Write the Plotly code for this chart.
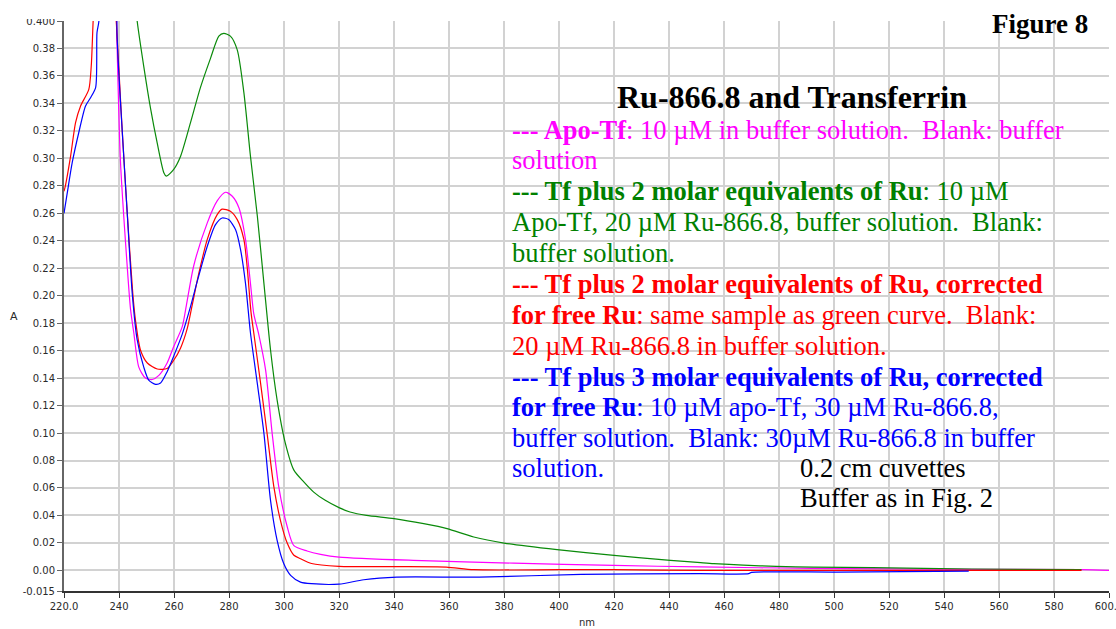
import plotly.graph_objects as go

# ---- spectra: wavelength (nm) and absorbance (A) ----
apo_nm = [236, 238.5, 239.3, 240.5, 243, 244.2, 245.4, 247.2, 249.6, 252.1, 254.5,
          257.5, 259.9, 263, 264.5, 267.2, 272.1, 275.7, 278.7, 281.2, 283.6, 286,
          287.8, 289, 290.8, 293.3, 295.7, 298.1, 301.2, 303.6, 308.4, 313.3, 320,
          347, 383.5, 420, 451.5, 492, 550, 590, 600]
apo_a = [0.6, 0.45, 0.382, 0.299, 0.221, 0.19, 0.1727, 0.148, 0.140, 0.139, 0.142,
         0.151, 0.163, 0.1775, 0.193, 0.222, 0.253, 0.269, 0.2753, 0.2724, 0.264, 0.241,
         0.209, 0.187, 0.172, 0.146, 0.0998, 0.0608, 0.0316, 0.018, 0.0141, 0.0117, 0.0097,
         0.0073, 0.0053, 0.0036, 0.0025, 0.0015, 0.0008, 0.0005, 0.0]

tf2_nm = [240, 244, 246.6, 249, 251.5, 253.9, 256.3, 257.2, 259.9, 262.4, 266, 269.6,
          273.3, 276.3, 278.1, 280.5, 283, 285.4, 287.8, 290.3, 292.7, 295.1, 297.5,
          300.5, 303.6, 307.2, 310.8, 315, 320, 324, 330, 340, 350.8, 359.3, 369, 380,
          399.3, 420, 440.5, 451.5, 456.3, 467, 479, 492.6, 514, 550, 590]
tf2_a = [0.6, 0.45, 0.40, 0.367, 0.336, 0.311, 0.2895, 0.287, 0.292, 0.3016, 0.326, 0.3515,
         0.373, 0.389, 0.391, 0.389, 0.379, 0.348, 0.3016, 0.258, 0.209, 0.1605, 0.124,
         0.0925, 0.073, 0.0644, 0.057, 0.051, 0.0457, 0.0425, 0.040, 0.0377, 0.034, 0.0304,
         0.0243, 0.0199, 0.0151, 0.0109, 0.0073, 0.0056, 0.0049, 0.0039, 0.0029, 0.0024,
         0.002, 0.001, 0.0005]

tf2c_nm = [220, 220.5, 222.4, 224.2, 226, 229, 229.9, 230.6, 233, 236, 239, 239.9,
           241.2, 243, 245, 246, 247.8, 250.3, 253.9, 257.5, 259.9, 262.4, 264.8, 266.6,
           269, 272.1, 275.7, 277.5, 280.5, 283, 285.4, 286.6, 288, 289, 291.5, 293.9,
           296.3, 298.7, 301.2, 303.6, 306, 310, 320, 340, 359, 369, 400, 420, 451,
           500, 550, 590]
tf2c_a = [0.276, 0.28, 0.3016, 0.326, 0.338, 0.350, 0.367, 0.40, 0.5, 0.5, 0.40, 0.367,
          0.319, 0.26, 0.202, 0.182, 0.1605, 0.151, 0.1466, 0.147, 0.153, 0.162, 0.176, 0.193,
          0.216, 0.241, 0.259, 0.263, 0.2615, 0.2554, 0.241, 0.221, 0.188, 0.173, 0.136, 0.099,
          0.061, 0.0365, 0.0197, 0.011, 0.0085, 0.005, 0.003, 0.0027, 0.0024, 0.0005, 0.0005,
          0.0005, 0.0, 0.0, 0.0, 0.0]

tf3c_nm = [220, 221.2, 223, 225.4, 227.8, 229.6, 231.5, 232, 232.7, 235, 238, 239.3,
           241.2, 243, 244.8, 246.6, 249, 250.8, 253.3, 255.1, 257.5, 259.9, 263, 266,
           268.4, 272.1, 275.1, 277.5, 279.9, 282.4, 284.2, 286, 287.8, 290.3, 292.7,
           295.1, 297.5, 299.9, 302.4, 306, 310, 320, 329, 341, 371, 408, 451, 469, 470,
           501, 549]
tf3c_a = [0.26, 0.275, 0.297, 0.319, 0.338, 0.344, 0.3515, 0.3916, 0.40, 0.6, 0.6, 0.389,
          0.319, 0.26, 0.2019, 0.168, 0.148, 0.1386, 0.1355, 0.1364, 0.1447, 0.156, 0.172,
          0.192, 0.210, 0.236, 0.2517, 0.2566, 0.2554, 0.248, 0.2335, 0.209, 0.173, 0.136,
          0.0998, 0.051, 0.0219, 0.005, -0.0036, -0.0085, -0.0097, -0.0100, -0.0068, -0.0049,
          -0.0049, -0.0029, -0.0024, -0.0024, -0.0015, -0.0012, -0.0005]

# ---- axis ticks ----
x_ticks = [220, 240, 260, 280, 300, 320, 340, 360, 380, 400, 420, 440, 460, 480,
           500, 520, 540, 560, 580, 600]
x_labels = ["220.0"] + [str(v) for v in x_ticks[1:-1]] + ["600.0"]
y_ticks = [-0.015, 0.0, 0.02, 0.04, 0.06, 0.08, 0.10, 0.12, 0.14, 0.16, 0.18, 0.20,
           0.22, 0.24, 0.26, 0.28, 0.30, 0.32, 0.34, 0.36, 0.38, 0.40]
y_labels = ["-0.015", "0.00", "0.02", "0.04", "0.06", "0.08", "0.10", "0.12", "0.14",
            "0.16", "0.18", "0.20", "0.22", "0.24", "0.26", "0.28", "0.30", "0.32",
            "0.34", "0.36", "0.38", "0.400"]

W, H = 1116, 629
ML, MR, MT, MB = 64, 7, 21, 38
PW, PH = W - ML - MR, H - MT - MB


def px(x):
    return (x - ML) / PW


def py(y):
    return (H - MB - y) / PH


fig = go.Figure()
series = [
    (apo_nm, apo_a, "#ff00ff"),
    (tf2_nm, tf2_a, "#0a8a0a"),
    (tf2c_nm, tf2c_a, "#ff0000"),
    (tf3c_nm, tf3c_a, "#0000ff"),
]
for xs, ys, col in series:
    fig.add_trace(go.Scatter(x=xs, y=ys, mode="lines", showlegend=False,
                             line=dict(color=col, width=1.2, shape="spline",
                                       smoothing=0.7)))

tick_font = dict(family="DejaVu Sans, Arial", size=10, color="#2a2a2a")
fig.update_xaxes(range=[220, 600], tickvals=x_ticks, ticktext=x_labels,
                 showgrid=True, gridcolor="#d2d2d2", gridwidth=1.5,
                 showline=True, linecolor="#333333", linewidth=1.5,
                 ticks="outside", ticklen=5, tickcolor="#333333",
                 tickfont=tick_font, zeroline=False, ticklabeloverflow="allow",
                 automargin=False)
fig.update_yaxes(range=[-0.015, 0.4], tickvals=y_ticks, ticktext=y_labels,
                 showgrid=True, gridcolor="#d2d2d2", gridwidth=1.5,
                 showline=True, linecolor="#666666", linewidth=2,
                 ticks="outside", ticklen=5, tickcolor="#666666",
                 tickfont=tick_font, zeroline=False, ticklabeloverflow="allow",
                 automargin=False)

# white text panel over the grid
fig.add_shape(type="rect", xref="paper", yref="paper",
              x0=px(493), x1=px(1094), y0=py(527), y1=py(68),
              fillcolor="white", line=dict(width=0), layer="between")
# page edge trims the top of the plot frame
fig.add_shape(type="rect", xref="paper", yref="paper",
              x0=-0.1, x1=1.1, y0=py(19), y1=py(-10),
              fillcolor="white", line=dict(width=0), layer="above")

serif = "Liberation Serif, Times New Roman, serif"
MAG, GRN, RED, BLU = "#ff00ff", "#008000", "#ff0000", "#0000ff"
BODY = 26.5
lines = [
    ("<b>--- Apo-Tf</b>: 10 \u00b5M in buffer solution.\u00a0 Blank: buffer", MAG, 510, 130),
    ("solution", MAG, 510, 160),
    ("<b>--- Tf plus 2 molar equivalents of Ru</b>: 10 \u00b5M", GRN, 510, 191),
    ("Apo-Tf, 20 \u00b5M Ru-866.8, buffer solution.\u00a0 Blank:", GRN, 510, 222),
    ("buffer solution.", GRN, 510, 253),
    ("<b>--- Tf plus 2 molar equivalents of Ru, corrected</b>", RED, 510, 284),
    ("<b>for free Ru</b>: same sample as green curve.\u00a0 Blank:", RED, 510, 315),
    ("20 \u00b5M Ru-866.8 in buffer solution.", RED, 510, 346),
    ("<b>--- Tf plus 3 molar equivalents of Ru, corrected</b>", BLU, 510, 377),
    ("<b>for free Ru</b>: 10 \u00b5M apo-Tf, 30 \u00b5M Ru-866.8,", BLU, 510, 407),
    ("buffer solution.\u00a0 Blank: 30\u00b5M Ru-866.8 in buffer", BLU, 510, 438),
    ("solution.", BLU, 510, 468),
    ("0.2 cm cuvettes", "black", 798, 468),
    ("Buffer as in Fig. 2", "black", 798, 498),
]
for text, col, x, y in lines:
    fig.add_annotation(text=text, xref="paper", yref="paper", x=px(x), y=py(y),
                       xanchor="left", yanchor="middle", showarrow=False,
                       font=dict(family=serif, size=BODY, color=col))

fig.add_annotation(text="<b>Ru-866.8 and Transferrin</b>", xref="paper", yref="paper",
                   x=px(792), y=py(97), xanchor="center", yanchor="middle",
                   showarrow=False, font=dict(family=serif, size=32, color="black"))
fig.add_annotation(text="<b>Figure 8</b>", xref="paper", yref="paper",
                   x=px(990), y=py(24), xanchor="left", yanchor="middle",
                   showarrow=False, font=dict(family=serif, size=27, color="black"))
fig.add_annotation(text="A", xref="paper", yref="paper", x=px(14), y=py(316),
                   xanchor="center", yanchor="middle", showarrow=False,
                   font=dict(family="DejaVu Sans, Arial", size=11, color="#2a2a2a"))
fig.add_annotation(text="nm", xref="paper", yref="paper", x=px(587), y=py(622),
                   xanchor="center", yanchor="middle", showarrow=False,
                   font=dict(family="DejaVu Sans, Arial", size=10, color="#2a2a2a"))

fig.update_layout(width=W, height=H, margin=dict(l=ML, r=MR, t=MT, b=MB, autoexpand=False),
                  plot_bgcolor="white", paper_bgcolor="white")

fig.write_html("out.html")
